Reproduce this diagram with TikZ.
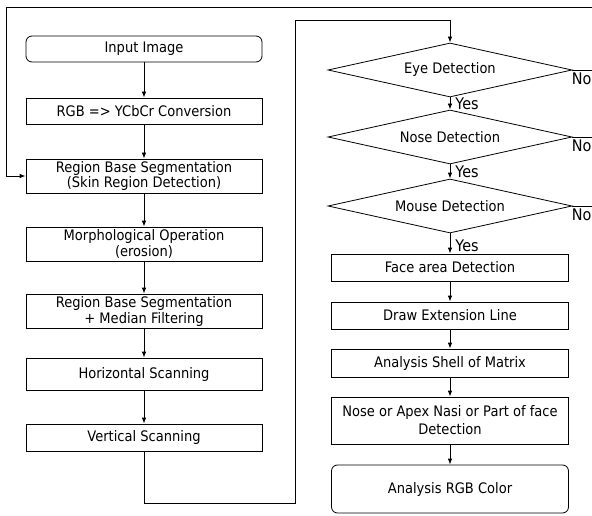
\documentclass[tikz,border=0pt]{standalone}
\usepackage{fontspec}
\setmainfont{DejaVu Sans}[FakeStretch=0.9]
\usetikzlibrary{arrows.meta, shapes.geometric}

\begin{document}
\begin{tikzpicture}[x=1pt, y=-1pt, >={Latex[length=6pt,width=4.5pt]},
  line width=0.8pt, font=\fontsize{14.5}{16}\selectfont,
  every node/.style={inner sep=1pt, align=center},
  stepbox/.style={draw, rectangle, minimum width=236pt},
  roundbox/.style={stepbox, rounded corners=6pt},
  test/.style={draw, diamond, aspect=4.5, minimum width=244pt,
    minimum height=54pt, inner sep=0pt},
  answer/.style={font=\fontsize{16}{17}\selectfont}]

  \useasboundingbox (0,0) rectangle (592,516);

  % left column
  \node[roundbox, minimum height=26pt] (input) at (144,49) {Input Image};
  \node[stepbox, minimum height=26pt] (rgb) at (144,111) {RGB => YCbCr Conversion};
  \node[stepbox, minimum height=34pt] (region) at (144,176)
    {Region Base Segmentation\\(Skin Region Detection)};
  \node[stepbox, minimum height=34pt] (morph) at (144,244)
    {Morphological Operation\\(erosion)};
  \node[stepbox, minimum height=34pt] (median) at (144,311)
    {Region Base Segmentation\\+ Median Filtering};
  \node[stepbox, minimum height=32pt] (horiz) at (144,374) {Horizontal Scanning};
  \node[stepbox, minimum height=27pt] (vert) at (144,437.5) {Vertical Scanning};

  % right column
  \node[test] (eye) at (450,70) {Eye Detection};
  \node[test] (nose) at (450,137) {Nose Detection};
  \node[test] (mouse) at (450,206) {Mouse Detection};
  \node[stepbox, minimum width=237pt, minimum height=27pt] (face) at (450,267.5)
    {Face area Detection};
  \node[stepbox, minimum width=237pt, minimum height=27pt] (extline) at (450,315.5)
    {Draw Extension Line};
  \node[stepbox, minimum width=237pt, minimum height=28pt] (shell) at (450,363)
    {Analysis Shell of Matrix};
  \node[stepbox, minimum width=237pt, minimum height=47pt] (apex) at (450,420.5)
    {Nose or Apex Nasi or Part of face\\[2pt]Detection};
  \node[roundbox, minimum width=237pt, minimum height=48pt] (color) at (450,489)
    {Analysis RGB Color};

  \coordinate (loopA) at (295,503);
  \coordinate (loopB) at (450,20);
  \coordinate (topR) at (592,7);
  \coordinate (topL) at (6,7);

  \foreach \a/\b in {input/rgb, rgb/region, region/morph, morph/median,
    median/horiz, horiz/vert, face/extline, extline/shell, shell/apex, apex/color}
    \draw[->] (\a) -- (\b);

  \draw[->] (eye) -- node[answer, right, xshift=4pt] {Yes} (nose);
  \draw[->] (nose) -- node[answer, right, xshift=4pt] {Yes} (mouse);
  \draw[->] (mouse) -- node[answer, right, xshift=4pt, yshift=-2pt] {Yes} (face);

  \foreach \d in {eye, nose, mouse}
    \draw (\d.east) node[answer, anchor=north west, inner sep=0pt,
      xshift=-1pt, yshift=-2pt] {No} -- (\d.east -| topR);

  \draw[->] (vert.south) |- (loopA) |- (loopB) -- (eye.north);
  \draw[->] (topR) -- (topL) |- (region.west);
\end{tikzpicture}
\end{document}
